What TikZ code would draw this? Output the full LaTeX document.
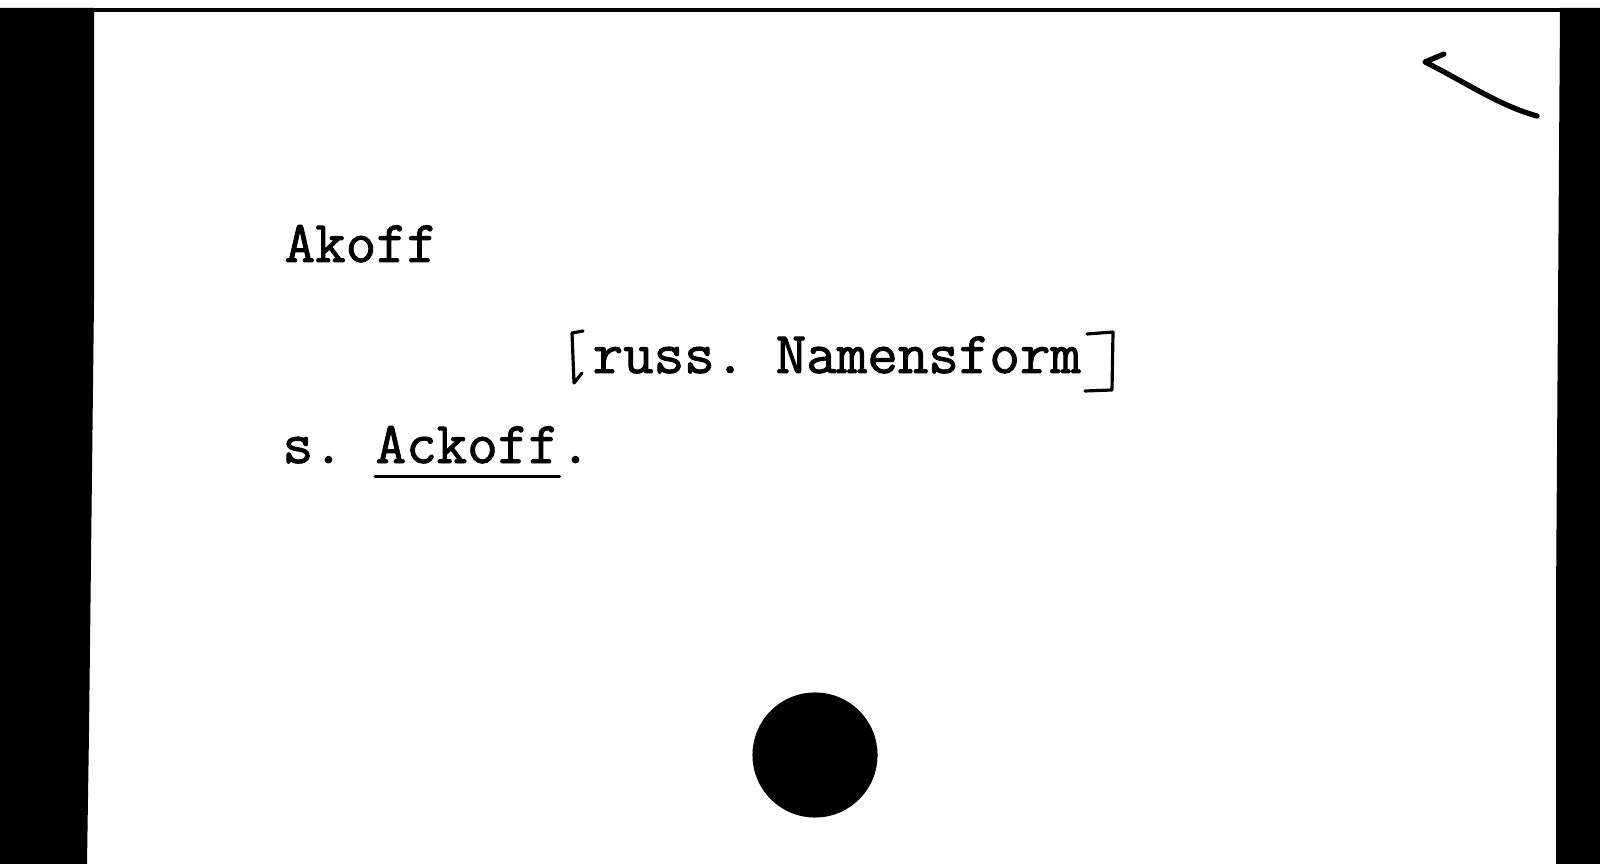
\documentclass[tikz,border=0pt]{standalone}
\usepackage{fontspec}
\setmonofont{Latin Modern Mono}[FakeBold=1.6]
\usepackage{tikz}
\usetikzlibrary{positioning,calc}
\tikzset{
	catalogue card/.style={
		x=0.01cm,y=-0.01cm, % one unit is one pixel of the scan
		line join=round,
		line cap=round
	},
	typed/.style={
		anchor=base west,
		inner sep=0pt,
		font=\fontsize{16.85}{20}\selectfont\ttfamily
	},
	scan edge/.style={
		fill=black,
		draw=none
	},
	bracket stroke/.style={
		draw,
		line width=0.9pt
	},
	underline/.style={
		draw,
		line width=0.85pt
	},
	pencil stroke/.style={
		draw,
		line width=1.5pt
	},
	punch hole/.style={
		circle,
		fill=black,
		minimum size=1.25cm,
		inner sep=0pt
	}
}
\begin{document}
\begin{tikzpicture}[catalogue card]
	\useasboundingbox (0,0) rectangle (1600,864);
	% dark edges of the scan
	\fill[scan edge] (0,8) rectangle (1600,12);
	\fill[scan edge] (0,8) -- (94,8) -- (94,300) -- (89,733) -- (87,864) -- (0,864) -- cycle;
	\fill[scan edge] (1560,8) -- (1600,8) -- (1600,864) -- (1556,864) -- (1556,600) -- cycle;
	% typed lines
	\node[typed] (heading) at (284,262) {Akoff};
	\node[typed] (note) at (592,373) {russ. Namensform};
	\node[typed] (see) at (282,463) {s.};
	\node[typed] (target) at ($(see.base west)+(93,0)$) {Ackoff};
	\node[typed] (stop) at (target.base east) {.};
	\draw[underline] ([yshift=-3.7pt]target.base west) -- ([yshift=-3.7pt]target.base east);
	% hand drawn brackets
	\draw[bracket stroke] (583,331) -- (572,333) -- (574,383) -- (582,373);
	\draw[bracket stroke] (1087,334) -- (1113,332) -- (1112,390) -- (1085,391);
	% pencil mark, top right
	\coordinate (tick) at (1425,62);
	\draw[pencil stroke] (1444,54) -- (tick) .. controls (1465,82) and (1500,106) .. (1537,116);
	% punch hole
	\node[punch hole] (hole) at (815,755) {};
\end{tikzpicture}
\end{document}
